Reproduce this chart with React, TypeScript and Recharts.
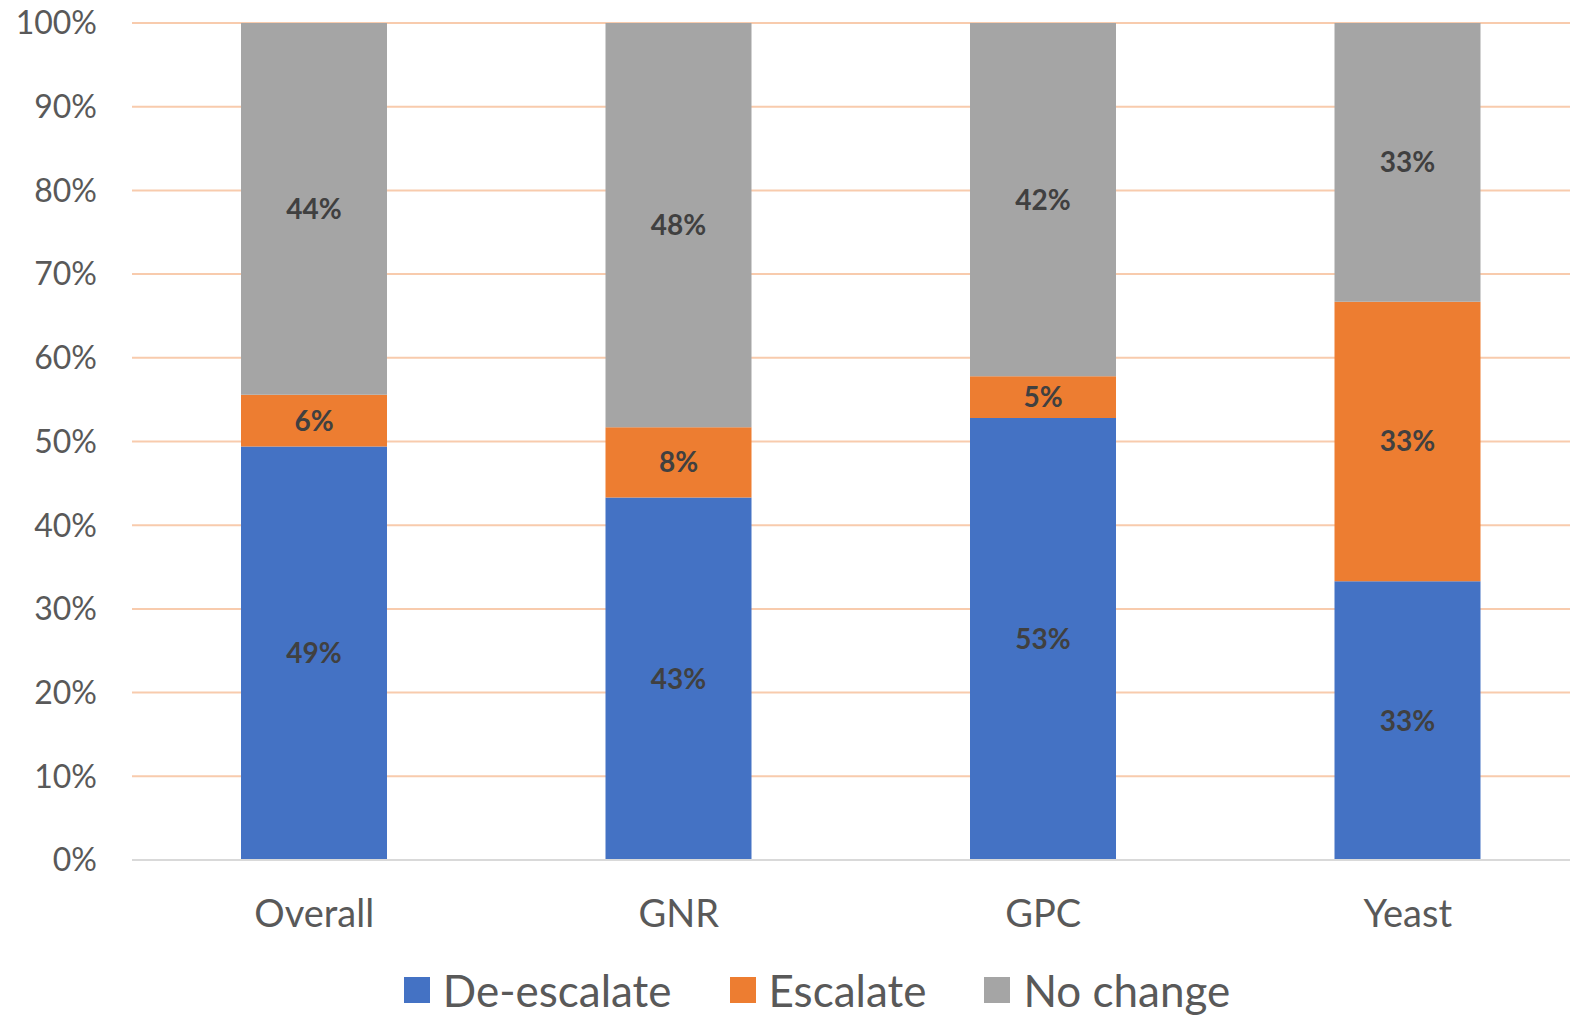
import { BarChart, Bar, XAxis, YAxis, CartesianGrid, Legend, LabelList } from 'recharts';

const categories = ['Overall', 'GNR', 'GPC', 'Yeast'];
const deEscalate = [49.4, 43.3, 52.8, 33.3];
const escalate = [6.2, 8.4, 5.0, 33.4];
const noChange = [44.4, 48.3, 42.2, 33.3];
const yTicks = [0, 10, 20, 30, 40, 50, 60, 70, 80, 90, 100];

const series = [
    { key: 'deEscalate', name: 'De-escalate', color: '#4472C4' },
    { key: 'escalate', name: 'Escalate', color: '#ED7D31' },
    { key: 'noChange', name: 'No change', color: '#A5A5A5' },
];

const data = categories.map((name, i) => ({
    name,
    deEscalate: deEscalate[i],
    escalate: escalate[i],
    noChange: noChange[i],
}));

const FONT = 'Lato, "Open Sans", sans-serif';

function LegendContent() {
    return (
        <div style={{ display: 'flex', justifyContent: 'center', alignItems: 'center', gap: 58, paddingLeft: 44, fontFamily: FONT }}>
            {series.map((s) => (
                <div key={s.key} style={{ display: 'flex', alignItems: 'center' }}>
                    <span style={{ width: 26, height: 26, background: s.color, display: 'inline-block', marginRight: 13 }} />
                    <span style={{ fontSize: 44, color: '#595959', lineHeight: '50px' }}>{s.name}</span>
                </div>
            ))}
        </div>
    );
}

export default function App() {
    return (
        <div style={{ position: 'absolute', left: 0, top: 0, width: 1570, height: 1015, overflow: 'hidden', background: '#fff' }}>
            <BarChart
                width={1600}
                height={1015}
                data={data}
                margin={{ top: 23, right: 10, left: 0, bottom: 75 }}
                barSize={146}
            >
                <CartesianGrid horizontal vertical={false} stroke="#F8CBAD" strokeWidth={2} />
                <XAxis
                    dataKey="name"
                    axisLine={{ stroke: '#D9D9D9', strokeWidth: 2 }}
                    tickLine={false}
                    tickSize={0}
                    tickMargin={40}
                    tick={{ fill: '#595959', fontSize: 38, fontFamily: FONT }}
                />
                <YAxis
                    domain={[0, 100]}
                    ticks={yTicks}
                    width={132}
                    axisLine={false}
                    tickLine={false}
                    tickSize={0}
                    tickMargin={35}
                    tickFormatter={(v) => `${v}%`}
                    tick={{ fill: '#595959', fontSize: 32, fontFamily: FONT }}
                />
                <Legend verticalAlign="bottom" content={<LegendContent />} wrapperStyle={{ bottom: 0 }} />
                {series.map((s) => (
                    <Bar key={s.key} dataKey={s.key} name={s.name} stackId="a" fill={s.color} isAnimationActive={false}>
                        <LabelList
                            dataKey={s.key}
                            position="center"
                            formatter={(v: number) => `${Math.round(v)}%`}
                            style={{ fill: '#404040', fontSize: 28, fontWeight: 700, fontFamily: FONT }}
                        />
                    </Bar>
                ))}
            </BarChart>
        </div>
    );
}
